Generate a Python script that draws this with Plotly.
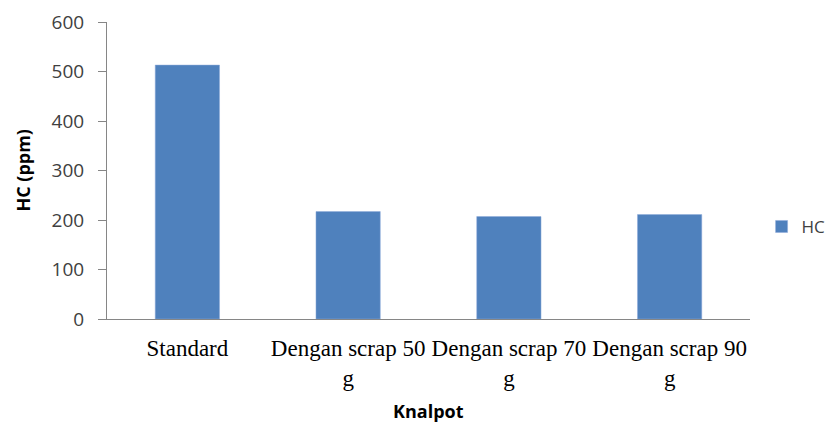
import plotly.graph_objects as go

categories = ["Standard", "Dengan scrap 50<br>g", "Dengan scrap 70<br>g", "Dengan scrap 90<br>g"]
hc_values = [513, 217, 207, 211]
series_name = "HC"
y_ticks = [0, 100, 200, 300, 400, 500, 600]

fig = go.Figure()
fig.add_trace(go.Bar(
    x=categories, y=hc_values, name=series_name,
    marker=dict(color="#4F81BD", line=dict(color="#8EAADB", width=0.5)),
    showlegend=True,
))

# page body has an 8px default margin, so the figure is sized to fit inside the window
fig.update_layout(
    width=825, height=419,
    margin=dict(l=99, r=83, t=14, b=108, autoexpand=False),
    paper_bgcolor="white", plot_bgcolor="white",
    bargap=0.6,
    showlegend=True,
    legend=dict(x=1.018, y=0.31, xanchor="left", yanchor="middle",
                borderwidth=0, itemwidth=30,
                font=dict(family="Open Sans", size=17, color="#404040")),
    font=dict(family="Open Sans", color="#404040"),
    annotations=[
        dict(text="<b>Knalpot</b>", xref="paper", yref="paper", x=0.5, y=-0.31,
             xanchor="center", yanchor="middle", showarrow=False,
             font=dict(family="Open Sans", size=18, color="#000000")),
        dict(text="<b>HC (ppm)</b>", xref="paper", yref="paper", x=-0.132, y=0.5,
             xanchor="center", yanchor="middle", showarrow=False, textangle=-90,
             font=dict(family="Open Sans", size=18, color="#000000")),
    ],
)
fig.update_xaxes(
    showline=True, linecolor="#868686", linewidth=1,
    ticks="", showgrid=False, automargin=False,
    tickfont=dict(family="Liberation Serif", size=23, color="#000000"),
    ticklabelstandoff=8,
)
fig.update_yaxes(
    range=[0, 600], tickvals=y_ticks,
    showline=True, linecolor="#868686", linewidth=1,
    ticks="outside", ticklen=8, tickcolor="#868686",
    showgrid=False, zeroline=False, automargin=False,
    tickfont=dict(family="Open Sans", size=19, color="#404040"),
    ticklabelstandoff=10,
)

fig.write_html("out.html")
